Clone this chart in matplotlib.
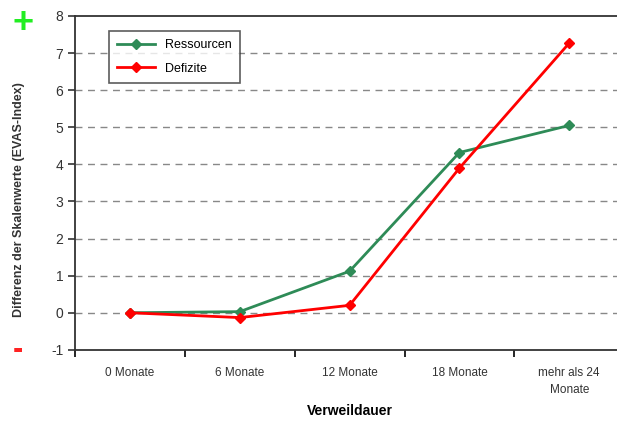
import numpy as np
import matplotlib
matplotlib.use("Agg")
import matplotlib.pyplot as plt

plt.rcParams["font.family"] = ["Liberation Sans", "DejaVu Sans"]
plt.rcParams["axes.unicode_minus"] = False

categories = ["0 Monate", "6 Monate", "12 Monate", "18 Monate", "mehr als 24\nMonate"]
ressourcen = [0.0, 0.03, 1.12, 4.32, 5.05]
defizite = [0.0, -0.13, 0.2, 3.9, 7.27]
yticks = list(range(-1, 9))

fig = plt.figure(figsize=(6.17, 4.21), dpi=100)
ax = fig.add_axes([0.1216, 0.169, 0.89, 0.793])

x = np.arange(len(categories))
ax.plot(x, ressourcen, color="#2e8b57", lw=2, marker="D", ms=5,
        label="Ressourcen", zorder=3)
ax.plot(x, defizite, color="#ff0000", lw=2, marker="D", ms=5,
        label="Defizite", zorder=4)

ax.set_xlim(-0.5, len(categories) - 0.5)
ax.set_ylim(-1, 8)
ax.set_yticks(yticks)
ax.set_xticks(np.arange(len(categories) + 1) - 0.5)
ax.set_xticklabels([])
ax.set_xticks(x, minor=True)
ax.set_xticklabels(categories, minor=True, fontsize=8.5, color="#333333",
                   linespacing=1.6)
ax.tick_params(axis="x", which="minor", length=0, pad=12)
ax.tick_params(axis="x", which="major", length=5, width=1.2, direction="out")
ax.tick_params(axis="y", length=5, width=1.2, labelsize=10, colors="#333333")

for y in range(0, 8):
    ax.axhline(y, color="#888888", lw=1, ls=(0, (5, 4)), zorder=1)

for s in ["left", "bottom", "top"]:
    ax.spines[s].set_linewidth(1.3)
    ax.spines[s].set_color("#333333")
ax.spines["right"].set_visible(False)

ax.set_xlabel("Verweildauer", fontsize=10, fontweight="bold", labelpad=6)
fig.text(0.03, 0.525, "Differenz der Skalenwerte (EVAS-Index)", rotation=90,
         fontsize=9, fontweight="bold", ha="center", va="center", color="#333333")
fig.text(0.038, 0.945, "+", color="#22ee22", fontsize=26, fontweight="bold",
         ha="center", va="center")
fig.text(0.029, 0.168, "-", color="#ff2222", fontsize=22, fontweight="bold",
         ha="center", va="center")

leg = ax.legend(loc="upper left", bbox_to_anchor=(0.05, 0.975), fontsize=9,
                frameon=True, fancybox=False, edgecolor="#333333",
                handlelength=3, borderpad=0.7, labelspacing=0.9)
leg.get_frame().set_linewidth(1.2)

fig.savefig("out.png", dpi=100)
